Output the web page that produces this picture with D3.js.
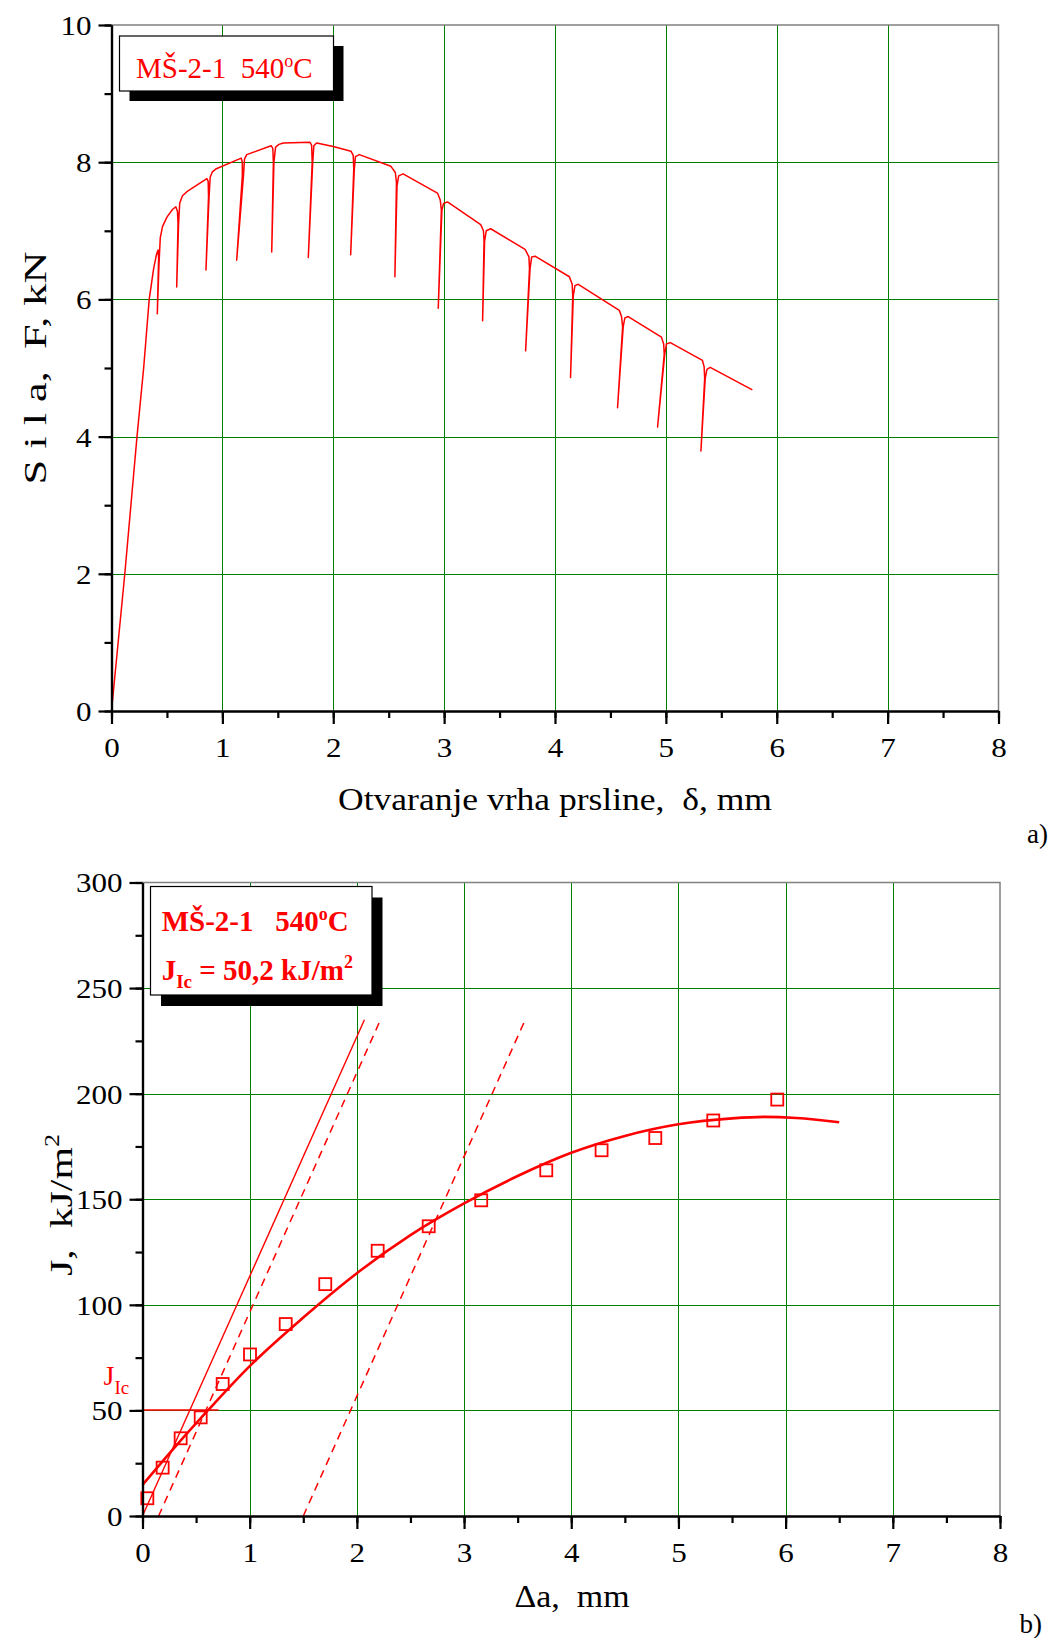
<!DOCTYPE html>
<html><head><meta charset="utf-8">
<script src="https://cdn.jsdelivr.net/npm/d3@7"></script>
<style>
html,body{margin:0;padding:0;background:#fff;}
svg{display:block;}
text{font-family:"Liberation Serif","Times New Roman",serif;}
</style></head><body>
<svg id="c" width="1052" height="1638"></svg>
<script>
// ---------------- DATA ----------------
// (a) force vs crack tip opening, with partial unloadings  [delta mm, F kN]
const loadCurve = [
 [0,0],[0.12,2.0],[0.23,4.0],[0.29,5.0],[0.34,6.0],[0.38,6.45],[0.405,6.65],[0.42,6.72],
 [0.425,6.6],[0.413,5.79],[0.428,6.5],[0.44,6.9],[0.46,7.06],[0.50,7.2],[0.55,7.31],[0.58,7.35],[0.595,7.28],
 [0.60,7.1],[0.588,6.18],[0.605,7.1],[0.615,7.4],[0.64,7.51],[0.68,7.57],[0.86,7.76],[0.872,7.72],
 [0.875,7.5],[0.852,6.43],[0.88,7.5],[0.89,7.78],[0.91,7.86],[0.94,7.9],[1.17,8.06],[1.18,8.0],
 [1.18,7.8],[1.129,6.57],[1.19,7.8],[1.20,8.05],[1.22,8.11],[1.44,8.24],[1.455,8.2],
 [1.46,8.0],[1.445,6.69],[1.465,8.0],[1.48,8.22],[1.51,8.26],[1.55,8.28],[1.79,8.29],[1.805,8.25],
 [1.81,8.0],[1.775,6.61],[1.815,8.0],[1.825,8.24],[1.85,8.28],[2.0,8.23],[2.16,8.16],[2.18,8.1],
 [2.185,7.9],[2.157,6.65],[2.19,7.9],[2.20,8.08],[2.235,8.11],[2.52,7.94],[2.56,7.85],
 [2.57,7.7],[2.556,6.33],[2.575,7.65],[2.59,7.8],[2.63,7.83],[2.94,7.55],[2.965,7.45],
 [2.975,7.3],[2.947,5.87],[2.98,7.3],[2.995,7.4],[3.03,7.42],[3.33,7.09],[3.355,7.0],
 [3.36,6.85],[3.347,5.69],[3.365,6.85],[3.38,7.0],[3.42,7.03],[3.73,6.73],[3.765,6.62],
 [3.77,6.45],[3.735,5.25],[3.775,6.45],[3.79,6.62],[3.82,6.63],[4.13,6.33],[4.155,6.22],
 [4.16,6.05],[4.14,4.86],[4.165,6.05],[4.18,6.2],[4.21,6.22],[4.58,5.84],[4.60,5.75],
 [4.61,5.6],[4.564,4.42],[4.615,5.6],[4.63,5.73],[4.66,5.75],[4.96,5.45],[4.98,5.35],
 [4.985,5.2],[4.925,4.14],[4.99,5.2],[5.005,5.35],[5.04,5.37],[5.33,5.11],[5.345,5.02],
 [5.35,4.85],[5.316,3.79],[5.355,4.85],[5.37,4.98],[5.40,5.01],[5.78,4.68]
];
const topXTicks = [0,1,2,3,4,5,6,7,8];
const topYTicks = [0,2,4,6,8,10];
const topTitle = "MŠ-2-1  540";

// (b) J-R curve
const crackGrowth = [0.045,0.188,0.356,0.543,0.748,1.003,1.336,1.705,2.194,2.67,3.16,3.767,4.283,4.784,5.325,5.922];
const jValues     = [8.4,22.9,36.8,46.7,62.5,76.5,90.9,109.8,125.6,137.2,149.5,163.7,173.2,179.0,187.3,197.2];
const fitDa = [0,0.3,0.61,1.0,1.5,2.0,2.5,3.0,3.5,4.0,4.5,5.0,5.5,5.8,6.1,6.5];
const fitJ  = [14.7,32.5,50,71,94,115,133,148,161,172,180,185.5,188.3,189,188.5,186.5];
const bluntSlope = 113.5;          // kJ/m2 per mm
const offsetLines = [0.15, 1.5];   // mm (dashed exclusion lines)
const lineTopJ = 235;
const jIc = 50.2;
const jIcLineEnd = 0.71;
const botXTicks = [0,1,2,3,4,5,6,7,8];
const botYTicks = [0,50,100,150,200,250,300];

// ---------------- DRAW ----------------
const svg = d3.select("#c");
svg.append("rect").attr("width",1052).attr("height",1638).attr("fill","#fff");
const RED = "#ff0000", GREEN = "#008000";
const TICKSCALE = 1.15;

function panel(cfg){
  const g = svg.append("g");
  const x = d3.scaleLinear().domain(cfg.xd).range(cfg.xr);
  const y = d3.scaleLinear().domain(cfg.yd).range(cfg.yr);
  g.append("g").selectAll("line").data(cfg.xt.filter(v=>v>cfg.xd[0]&&v<cfg.xd[1])).join("line")
    .attr("x1",d=>Math.round(x(d))+0.5).attr("x2",d=>Math.round(x(d))+0.5)
    .attr("y1",y(cfg.yd[0])).attr("y2",y(cfg.yd[1])).attr("stroke",GREEN).attr("stroke-width",1);
  g.append("g").selectAll("line").data(cfg.yt.filter(v=>v>cfg.yd[0]&&v<cfg.yd[1])).join("line")
    .attr("y1",d=>Math.round(y(d))+0.5).attr("y2",d=>Math.round(y(d))+0.5)
    .attr("x1",x(cfg.xd[0])).attr("x2",x(cfg.xd[1])).attr("stroke",GREEN).attr("stroke-width",1);
  g.append("path").attr("d",`M${x(cfg.xd[0])},${y(cfg.yd[1])}H${x(cfg.xd[1])}V${y(cfg.yd[0])}`)
    .attr("fill","none").attr("stroke","#808080").attr("stroke-width",1.5);
  return {g,x,y};
}

function axes(p, cfg){
  const {g,x,y} = p;
  const minorX = d3.range(cfg.xd[0], cfg.xd[1]+1e-9, cfg.xminor);
  const minorY = d3.range(cfg.yd[0], cfg.yd[1]+1e-9, cfg.yminor);
  const ax = g.append("g").attr("transform",`translate(0,${y(cfg.yd[0])})`);
  ax.append("g").call(d3.axisBottom(x).tickValues(minorX).tickSize(7).tickFormat("").tickSizeOuter(0));
  ax.append("g").call(d3.axisBottom(x).tickValues(cfg.xt).tickSize(13).tickSizeOuter(0).tickFormat(d3.format("d")));
  const ay = g.append("g").attr("transform",`translate(${x(cfg.xd[0])},0)`);
  ay.append("g").call(d3.axisLeft(y).tickValues(minorY).tickSize(7).tickFormat("").tickSizeOuter(0));
  ay.append("g").call(d3.axisLeft(y).tickValues(cfg.yt).tickSize(13).tickSizeOuter(0).tickFormat(d3.format("d")));
  [ax,ay].forEach(a=>{
    a.selectAll("g").attr("font-family",null);
    a.selectAll("path.domain").attr("stroke","#000").attr("stroke-width",2.2);
    a.selectAll(".tick line").attr("stroke","#000").attr("stroke-width",2.2);
    a.selectAll(".tick text").attr("font-size",27).attr("fill","#000");
  });
  ax.selectAll(".tick text").attr("y",46).attr("dy",0).attr("transform",`scale(${TICKSCALE},1)`);
  ay.selectAll(".tick text").attr("x",-20/TICKSCALE).attr("dy","0.35em").attr("transform",`scale(${TICKSCALE},1)`);
}

// ===== Panel (a) =====
const cfgA = {xd:[0,8], yd:[0,10], xr:[111.5,998.5], yr:[711,25], xt:topXTicks, yt:topYTicks, xminor:0.5, yminor:1};
const A = panel(cfgA);
A.g.append("path").datum(loadCurve)
  .attr("d", d3.line().x(d=>A.x(d[0])).y(d=>A.y(d[1])))
  .attr("fill","none").attr("stroke",RED).attr("stroke-width",1.5).attr("stroke-linejoin","round");
axes(A, cfgA);

// legend (a)
const la = A.g.append("g");
la.append("rect").attr("x",129.5).attr("y",46).attr("width",214).attr("height",55).attr("fill","#000");
la.append("rect").attr("x",119.5).attr("y",36).attr("width",214).attr("height",55).attr("fill","#fff").attr("stroke","#000").attr("stroke-width",1.2);
const ta = la.append("text").attr("x",136).attr("y",78).attr("font-size",29).attr("fill",RED).style("white-space","pre");
ta.append("tspan").text(topTitle);
ta.append("tspan").attr("font-size",18).attr("dy",-11).text("o");
ta.append("tspan").attr("dy",11).text("C");

// axis titles (a)
svg.append("text").attr("x",555).attr("y",810).attr("text-anchor","middle").attr("font-size",32)
  .attr("textLength",434).attr("lengthAdjust","spacingAndGlyphs").style("white-space","pre")
  .text("Otvaranje vrha prsline,  δ, mm");
svg.append("text").attr("transform","translate(46,368) rotate(-90)").attr("text-anchor","middle").attr("font-size",32)
  .attr("textLength",233).attr("lengthAdjust","spacingAndGlyphs").style("white-space","pre")
  .text("S i l a,  F, kN");
svg.append("text").attr("x",1048).attr("y",843).attr("text-anchor","end").attr("font-size",27).text("a)");

// ===== Panel (b) =====
const cfgB = {xd:[0,8], yd:[0,300], xr:[142.5,1000], yr:[1516,882.5], xt:botXTicks, yt:botYTicks, xminor:0.5, yminor:25};
const B = panel(cfgB);
B.g.append("line").attr("x1",B.x(0)).attr("x2",B.x(jIcLineEnd)).attr("y1",B.y(jIc)).attr("y2",B.y(jIc))
  .attr("stroke",RED).attr("stroke-width",1.5);
B.g.append("line").attr("x1",B.x(0)).attr("y1",B.y(0)).attr("x2",B.x(lineTopJ/bluntSlope)).attr("y2",B.y(lineTopJ))
  .attr("stroke",RED).attr("stroke-width",1.4);
B.g.append("g").selectAll("line").data(offsetLines).join("line")
  .attr("x1",d=>B.x(d)).attr("y1",B.y(0)).attr("x2",d=>B.x(d+lineTopJ/bluntSlope)).attr("y2",B.y(lineTopJ))
  .attr("stroke",RED).attr("stroke-width",1.5).attr("stroke-dasharray","8,6");
B.g.append("path").datum(d3.zip(fitDa,fitJ))
  .attr("d", d3.line().curve(d3.curveMonotoneX).x(d=>B.x(d[0])).y(d=>B.y(d[1])))
  .attr("fill","none").attr("stroke",RED).attr("stroke-width",2.6);
const sq = 12;
B.g.append("g").selectAll("rect").data(d3.zip(crackGrowth,jValues)).join("rect")
  .attr("x",d=>B.x(d[0])-sq/2).attr("y",d=>B.y(d[1])-sq/2).attr("width",sq).attr("height",sq)
  .attr("fill","none").attr("stroke",RED).attr("stroke-width",1.8);
axes(B, cfgB);

// JIc label
const jl = svg.append("text").attr("x",B.x(0)-39).attr("y",B.y(jIc)-25).attr("fill",RED).attr("font-size",28);
jl.append("tspan").text("J");
jl.append("tspan").attr("font-size",19).attr("dy",9).text("Ic");

// legend (b)
const lb = B.g.append("g");
lb.append("rect").attr("x",161).attr("y",897.5).attr("width",221.5).attr("height",108.5).attr("fill","#000");
lb.append("rect").attr("x",150.5).attr("y",886.5).attr("width",221.5).attr("height",108.5).attr("fill","#fff").attr("stroke","#000").attr("stroke-width",1.2);
const tb1 = lb.append("text").attr("x",161.7).attr("y",931).attr("font-size",29).attr("font-weight","bold").attr("fill",RED).style("white-space","pre");
tb1.append("tspan").text("MŠ-2-1   540");
tb1.append("tspan").attr("font-size",18).attr("dy",-11).text("o");
tb1.append("tspan").attr("dy",11).text("C");
const tb2 = lb.append("text").attr("x",161.7).attr("y",980).attr("font-size",29).attr("font-weight","bold").attr("fill",RED).style("white-space","pre");
tb2.append("tspan").text("J");
tb2.append("tspan").attr("font-size",19).attr("dy",8).text("Ic");
tb2.append("tspan").attr("dy",-8).text(" = " + String(jIc).replace(".",",") + " kJ/m");
tb2.append("tspan").attr("font-size",18).attr("dy",-12).text("2");

// axis titles (b)
svg.append("text").attr("x",572).attr("y",1607).attr("text-anchor","middle").attr("font-size",32)
  .attr("textLength",115).attr("lengthAdjust","spacingAndGlyphs").style("white-space","pre")
  .text("Δa,  mm");
const yb = svg.append("text").attr("transform","translate(72,1205) rotate(-90)").attr("text-anchor","middle").attr("font-size",32)
  .attr("textLength",142).attr("lengthAdjust","spacingAndGlyphs").style("white-space","pre");
yb.append("tspan").text("J,  kJ/m");
yb.append("tspan").attr("font-size",20).attr("dy",-13).text("2");
svg.append("text").attr("x",1042).attr("y",1633).attr("text-anchor","end").attr("font-size",27).text("b)");
</script>
</body></html>
